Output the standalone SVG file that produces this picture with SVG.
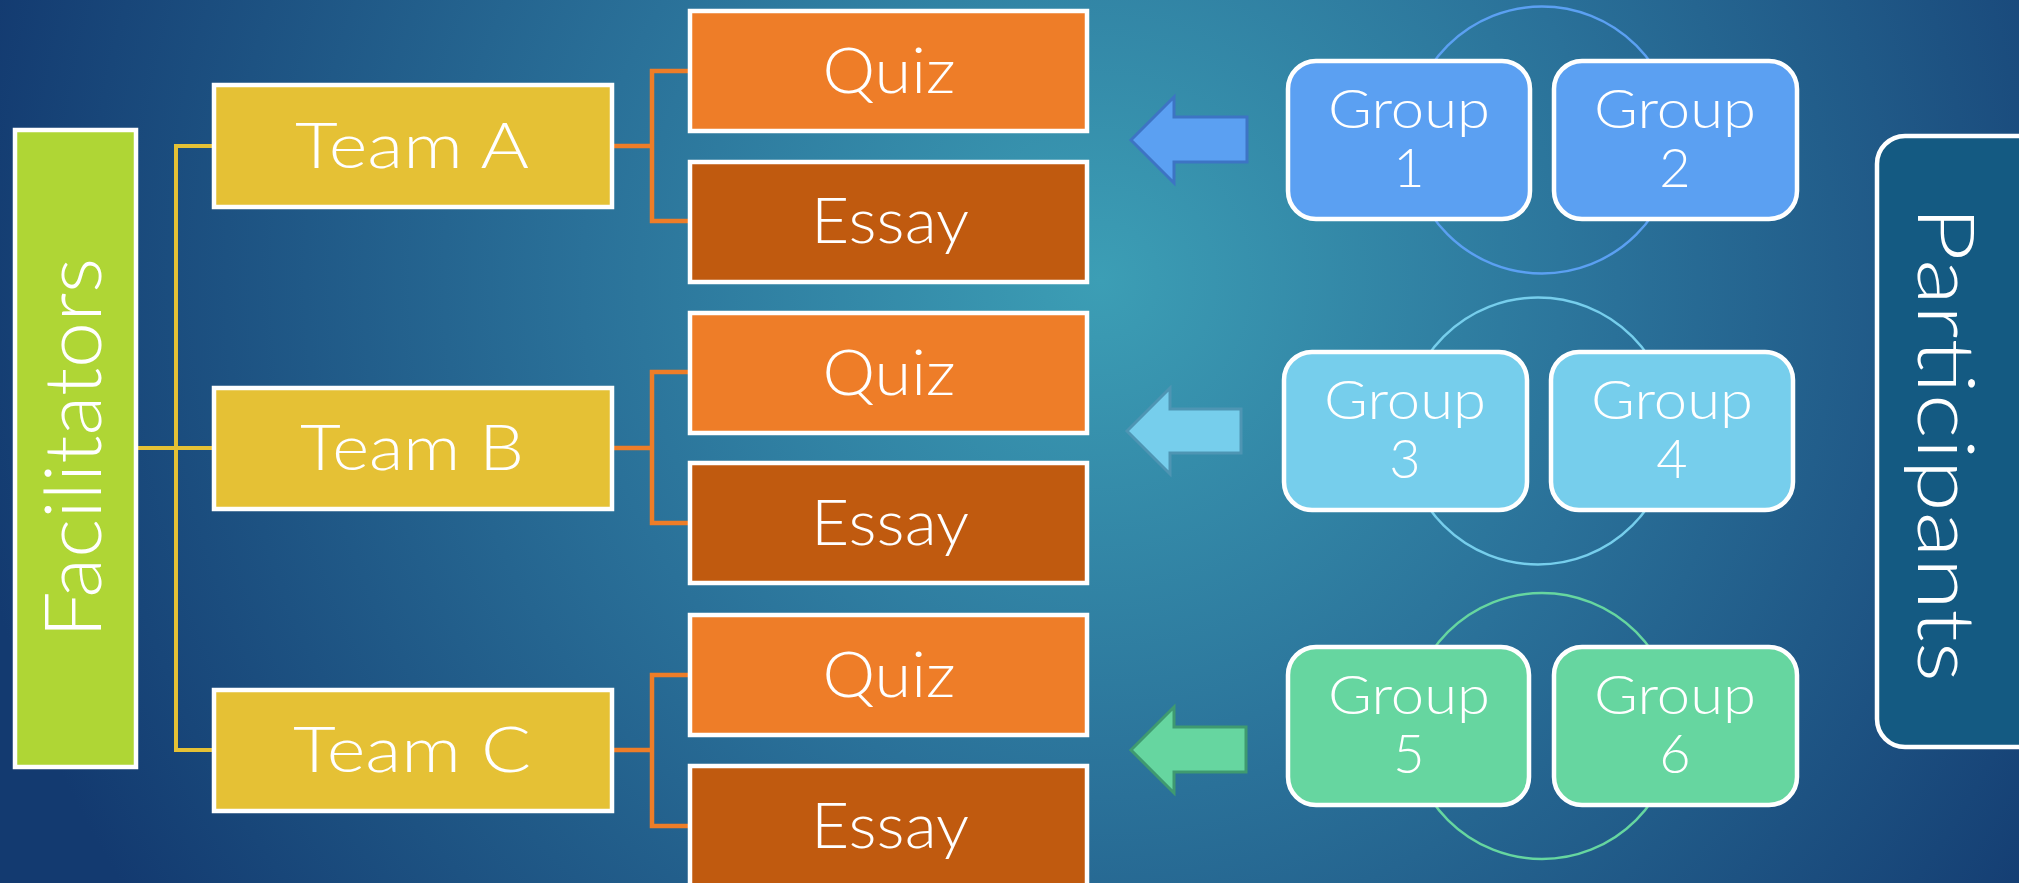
<svg xmlns="http://www.w3.org/2000/svg" width="2019" height="883" viewBox="0 0 2019 883">
<defs>
<radialGradient id="bg" gradientUnits="userSpaceOnUse" cx="1100" cy="280" r="1150">
<stop offset="0" stop-color="#3c9eb5"/>
<stop offset="0.45" stop-color="#2a7199"/>
<stop offset="1" stop-color="#133a70"/>
</radialGradient>
<style>
.box{stroke:#ffffff;stroke-width:4.5}
.t{font-family:"Lato","Open Sans","Liberation Sans",sans-serif;font-weight:300;fill:#ffffff;text-anchor:middle}
.big{font-size:64px}
.grp{font-size:54px}
.side{font-size:79px}
.team{fill:#e5c135}
.quiz{fill:#ee7d28}
.essay{fill:#c05a0f}
.yl{stroke:#e5c135;stroke-width:4;fill:none}
.ol{stroke:#ee7d28;stroke-width:4.5;fill:none}
</style>
</defs>
<rect x="0" y="0" width="2019" height="883" fill="url(#bg)"/>

<g id="connectors">
<path class="yl" d="M136,448 H214 M214,146 H176 V750 H214"/>
<path class="ol" d="M612,146 H652 M689,71 H652 V221 H689"/>
<path class="ol" d="M612,448 H652 M689,372 H652 V523 H689"/>
<path class="ol" d="M612,750 H652 M689,675 H652 V826 H689"/>
<circle cx="1542" cy="140" r="133.5" fill="none" stroke="#5ba0f2" stroke-width="2.5"/>
<circle cx="1538" cy="431" r="133.5" fill="none" stroke="#76ceec" stroke-width="2.5"/>
<circle cx="1542" cy="726" r="133" fill="none" stroke="#66d6a0" stroke-width="2.5"/>
</g>

<g id="facilitators">
<rect class="box" x="15" y="130" width="121" height="637" fill="#afd635"/>
<text class="t side" transform="translate(101,448) rotate(-90)" x="0" y="0" textLength="380" lengthAdjust="spacingAndGlyphs">Facilitators</text>
</g>

<g id="teamA">
<rect class="box team" x="214" y="85" width="398" height="122"/>
<text class="t big" x="412" y="168" textLength="234" lengthAdjust="spacingAndGlyphs">Team A</text>
</g>
<g id="teamB">
<rect class="box team" x="214" y="388" width="398" height="121"/>
<text class="t big" x="412" y="470" textLength="224" lengthAdjust="spacingAndGlyphs">Team B</text>
</g>
<g id="teamC">
<rect class="box team" x="214" y="690" width="398" height="121"/>
<text class="t big" x="412" y="772" textLength="238" lengthAdjust="spacingAndGlyphs">Team C</text>
</g>

<g id="quizA">
<rect class="box quiz" x="690" y="11" width="397" height="120"/>
<text class="t big" x="889" y="93" textLength="133" lengthAdjust="spacingAndGlyphs">Quiz</text>
</g>
<g id="essayA">
<rect class="box essay" x="690" y="162" width="397" height="120"/>
<text class="t big" x="890" y="243" textLength="158" lengthAdjust="spacingAndGlyphs">Essay</text>
</g>
<g id="quizB">
<rect class="box quiz" x="690" y="313" width="397" height="120"/>
<text class="t big" x="889" y="395" textLength="133" lengthAdjust="spacingAndGlyphs">Quiz</text>
</g>
<g id="essayB">
<rect class="box essay" x="690" y="463" width="397" height="120"/>
<text class="t big" x="890" y="545" textLength="158" lengthAdjust="spacingAndGlyphs">Essay</text>
</g>
<g id="quizC">
<rect class="box quiz" x="690" y="615" width="397" height="120"/>
<text class="t big" x="889" y="697" textLength="133" lengthAdjust="spacingAndGlyphs">Quiz</text>
</g>
<g id="essayC">
<rect class="box essay" x="690" y="766" width="397" height="130"/>
<text class="t big" x="890" y="848" textLength="158" lengthAdjust="spacingAndGlyphs">Essay</text>
</g>

<g id="arrow1">
<path d="M1131,140 L1174,97 L1174,117 L1247,117 L1247,162 L1174,162 L1174,183 Z" fill="#5ba0f2" stroke="#3d74c4" stroke-width="3"/>
</g>
<g id="arrow2">
<path d="M1127,431 L1170,388 L1170,409 L1241,409 L1241,453 L1170,453 L1170,474 Z" fill="#76ceec" stroke="#4e95b3" stroke-width="3"/>
</g>
<g id="arrow3">
<path d="M1131,750 L1174,707 L1174,727 L1246,727 L1246,772 L1174,772 L1174,793 Z" fill="#66d6a0" stroke="#3f9a70" stroke-width="3"/>
</g>

<g id="group1">
<rect class="box" x="1288" y="61" width="242" height="158" rx="28" fill="#5ba0f2"/>
<text class="t grp" x="1409" y="128" textLength="162" lengthAdjust="spacingAndGlyphs">Group</text>
<text class="t grp" x="1409" y="187">1</text>
</g>
<g id="group2">
<rect class="box" x="1554" y="61" width="243" height="158" rx="28" fill="#5ba0f2"/>
<text class="t grp" x="1675" y="128" textLength="162" lengthAdjust="spacingAndGlyphs">Group</text>
<text class="t grp" x="1675" y="187">2</text>
</g>
<g id="group3">
<rect class="box" x="1284" y="352" width="243" height="158" rx="28" fill="#76ceec"/>
<text class="t grp" x="1405" y="419" textLength="162" lengthAdjust="spacingAndGlyphs">Group</text>
<text class="t grp" x="1405" y="478">3</text>
</g>
<g id="group4">
<rect class="box" x="1551" y="352" width="242" height="158" rx="28" fill="#76ceec"/>
<text class="t grp" x="1672" y="419" textLength="162" lengthAdjust="spacingAndGlyphs">Group</text>
<text class="t grp" x="1672" y="478">4</text>
</g>
<g id="group5">
<rect class="box" x="1288" y="647" width="241" height="158" rx="28" fill="#66d6a0"/>
<text class="t grp" x="1409" y="714" textLength="162" lengthAdjust="spacingAndGlyphs">Group</text>
<text class="t grp" x="1409" y="773">5</text>
</g>
<g id="group6">
<rect class="box" x="1554" y="647" width="243" height="158" rx="28" fill="#66d6a0"/>
<text class="t grp" x="1675" y="714" textLength="162" lengthAdjust="spacingAndGlyphs">Group</text>
<text class="t grp" x="1675" y="773">6</text>
</g>

<g id="participants">
<rect class="box" x="1877" y="136" width="200" height="611" rx="28" fill="#145a82"/>
<text class="t side" transform="translate(1918,444) rotate(90)" x="0" y="0" textLength="476" lengthAdjust="spacingAndGlyphs">Participants</text>
</g>
</svg>
